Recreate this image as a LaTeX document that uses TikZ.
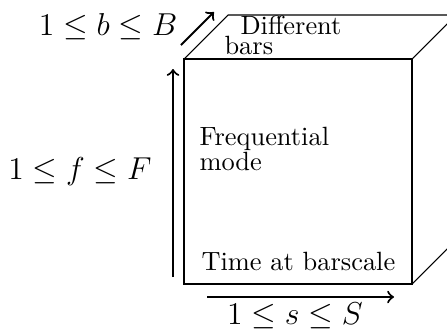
\documentclass[tikz,border=0pt]{standalone}
\begin{document}
\begin{tikzpicture}[x=0.3788pt,y=-0.3788pt,
  edge/.style={line width=0.4pt},
  axis/.style={thick,->},
  lbl/.style={inner sep=0pt,anchor=base west},
  mlbl/.style={inner sep=0pt,anchor=base,font=\large}]
\clip (0,0) rectangle (447,333);
\useasboundingbox (0,0) rectangle (447,333);
% cube corners
\coordinate (A) at (184,59);
\coordinate (B) at (412,59);
\coordinate (C) at (412,284);
\coordinate (D) at (184,284);
\coordinate (E) at (228,15);
\coordinate (F) at (456,15);
\coordinate (G) at (456,240);
\draw[edge] (A) -- (B) -- (C) -- (D) -- cycle;
\draw[edge] (A) -- (E) -- (F) -- (G) -- (C);
\draw[edge] (B) -- (F);
% axes
\coordinate (b0) at (181,45);
\coordinate (b1) at (214,12);
\coordinate (f0) at (173,277);
\coordinate (f1) at (173,69);
\coordinate (s0) at (207,297);
\coordinate (s1) at (394,297);
\draw[axis] (b0) -- (b1);
\draw[axis] (f0) -- (f1);
\draw[axis] (s0) -- (s1);
% labels
\node[mlbl] (lb) at (108,35.7) {$1\le b\le B$};
\node[mlbl] (lf) at (80,179) {$1\le f\le F$};
\node[mlbl] (ls) at (295,324) {$1\le s\le S$};
\node[lbl] (t1) at (240,34.5) {Different};
\node[lbl] (t2) at (224,54) {bars};
\node[lbl] (fm1) at (199,145) {Frequential};
\node[lbl] (fm2) at (199,170) {mode};
\node[lbl] (tb) at (201,270) {Time at barscale};
\end{tikzpicture}
\end{document}
